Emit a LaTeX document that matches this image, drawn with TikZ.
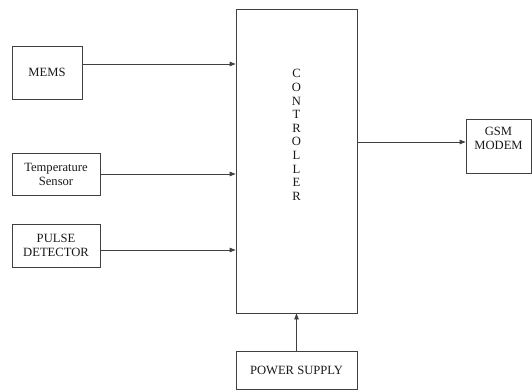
\documentclass[tikz,border=0pt]{standalone}
\usepackage{fontspec}
\setmainfont{Liberation Serif}
\usetikzlibrary{arrows.meta}
\begin{document}
\begin{tikzpicture}[x=1pt, y=-1pt,
  blk/.style={draw=black!75, line width=0.8pt, rectangle, align=center, inner sep=2pt,
    font=\fontsize{12.6}{14}\selectfont, text=black!90},
  arr/.style={draw=black!75, line width=0.8pt, -{Triangle[length=6pt,width=4.5pt]}}]
\useasboundingbox (0,0) rectangle (532,390);

\node[blk, minimum width=70, minimum height=53] at (47,72.5) (mems) {MEMS};
\node[blk, minimum width=88, minimum height=42] at (56,174) (temp) {Temperature\\Sensor};
\node[blk, minimum width=88, minimum height=43] at (56,245.5) (pulse) {PULSE\\DETECTOR};
\node[blk, minimum width=121, minimum height=304, text depth=52pt,
  font=\fontsize{12.6}{13.6}\selectfont] at (296.5,161) (ctrl)
  {C\\O\\N\\T\\R\\O\\L\\L\\E\\R};
\node[blk, minimum width=65, minimum height=54, text depth=16pt] at (498.5,146) (gsm) {GSM\\MODEM};
\node[blk, minimum width=121, minimum height=38] at (296.5,370) (power) {POWER SUPPLY};

\draw[arr] ([yshift=8.5]mems.east) -- ([yshift=8.5]mems.east -| ctrl.west);
\draw[arr] (temp.east) -- (temp.east -| ctrl.west);
\draw[arr] ([yshift=-4.5]pulse.east) -- ([yshift=-4.5]pulse.east -| ctrl.west);
\draw[arr] ([yshift=4]gsm.west -| ctrl.east) -- ([yshift=4]gsm.west);
\draw[arr] (power.north) -- (ctrl.south);

\end{tikzpicture}
\end{document}
